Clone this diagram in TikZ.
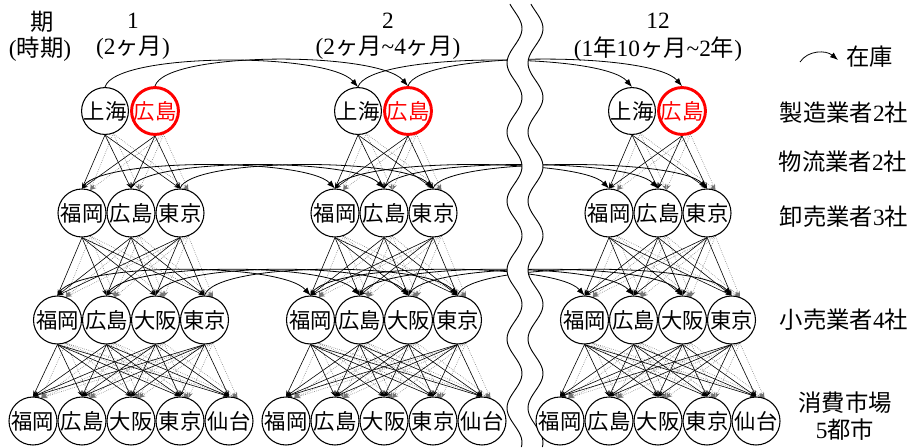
\documentclass[tikz,border=0pt]{standalone}
\usepackage{fontspec}
\setmainfont{Liberation Serif}
\newfontfamily\jp{Noto Sans CJK JP}
\usetikzlibrary{arrows.meta}
\pgfdeclarelayer{bg}
\pgfsetlayers{bg,main}
\begin{document}
\begin{tikzpicture}[x=0.75pt,y=-0.75pt,
  city/.style={circle,draw,line width=0.8pt,minimum size=36pt,inner sep=0pt,fill=white,font=\jp\fontsize{16}{16}\selectfont},
  mfg/.style={city,minimum size=34.5pt},
  redmfg/.style={mfg,draw=red,text=red,line width=2.2pt,minimum size=33pt},
  lab/.style={font=\fontsize{17.5}{19}\selectfont,inner sep=0pt,align=center},
  flowA/.style={-{Stealth[length=4.5pt,width=3.2pt]},line width=0.45pt,black},
  flowB/.style={-{Stealth[length=4.5pt,width=3.2pt]},line width=0.45pt,black!55,densely dotted},
  inv/.style={-{Latex[length=6pt,width=4.5pt]},line width=0.6pt},
  wave/.style={line width=0.7pt}]
\useasboundingbox (0,0) rectangle (912,447);

% headers
\node[lab] (h0) at (42,22) {\jp 期};
\node[lab] (h0b) at (40,49) {({\jp 時期})};
\node[lab] (h1) at (133,21) {1};
\node[lab] (h1b) at (133,48) {(2{\jp ヶ月})};
\node[lab] (h2) at (388,21) {2};
\node[lab] (h2b) at (388,48) {(2{\jp ヶ月}\textasciitilde 4{\jp ヶ月})};
\node[lab] (h3) at (658,21) {12};
\node[lab] (h3b) at (658,49) {(1{\jp 年}10{\jp ヶ月}\textasciitilde 2{\jp 年})};

% legend
\coordinate (lg1) at (800,62);
\coordinate (lg2) at (838,60);
\node[lab,anchor=west] (lgt) at (846,57) {\jp 在庫};

% row labels
\node[lab] (l1) at (844,113) {{\jp 製造業者}2{\jp 社}};
\node[lab] (l2) at (843,162) {{\jp 物流業者}2{\jp 社}};
\node[lab] (l3) at (844,217) {{\jp 卸売業者}3{\jp 社}};
\node[lab] (l4) at (844,320) {{\jp 小売業者}4{\jp 社}};
\node[lab] (l5) at (845,403) {\jp 消費市場};
\node[lab] (l6) at (845,430) {5{\jp 都市}};

% nodes
\foreach \c/\cx in {1/131,2/384,3/658}{
  \node[mfg] (m\c-1) at ({\cx-26},111) {上海};
  \node[redmfg] (m\c-2) at ({\cx+24},111) {広島};
  \foreach \n [count=\k] in {福岡,広島,東京}
    \node[city] (w\c-\k) at ({\cx-98+49*\k},213) {\n};
  \foreach \n [count=\k] in {福岡,広島,大阪,東京}
    \node[city] (r\c-\k) at ({\cx-122.5+49*\k},320) {\n};
  \foreach \n [count=\k] in {福岡,広島,大阪,東京,仙台}
    \node[city] (k\c-\k) at ({\cx-147+49*\k},421) {\n};
}

\begin{pgfonlayer}{bg}
\foreach \c in {1,2,3}{
  \foreach \i in {1,2}{\foreach \j in {1,2,3}{
    \draw[flowA] (m\c-\i.south) -- (w\c-\j.north);
    \draw[flowB] (m\c-\i.-70) -- (w\c-\j.70);
  }}
  \foreach \i in {1,2,3}{\foreach \j in {1,2,3,4}{
    \draw[flowA] (w\c-\i.south) -- (r\c-\j.north);
    \draw[flowB] (w\c-\i.-70) -- (r\c-\j.70);
  }}
  \foreach \i in {1,2,3,4}{\foreach \j in {1,2,3,4,5}{
    \draw[flowA] (r\c-\i.south) -- (k\c-\j.north);
    \draw[flowB] (r\c-\i.-70) -- (k\c-\j.70);
  }}
}
% inventory arcs
\foreach \c/\d in {1/2,2/3}{
  \foreach \i in {1,2}
    \draw[inv] (m\c-\i.north) .. controls +(10,-35) and +(-30,-35) .. (m\d-\i.north);
  \foreach \i in {1,2,3}
    \draw[inv] (w\c-\i.north) .. controls +(10,-31) and +(-30,-31) .. (w\d-\i.north);
  \foreach \i in {1,2,3,4}
    \draw[inv] (r\c-\i.north) .. controls +(10,-34) and +(-30,-34) .. (r\d-\i.north);
}
\draw[inv] (lg1) .. controls (808,50) and (826,50) .. (lg2);
% break
\fill[white] plot[domain=4:447,samples=160,smooth] ({514.5-7.5*cos(5.2174*(\x-63))},\x)
  -- plot[domain=447:4,samples=160,smooth] ({535.5-7.5*cos(5.2174*(\x-63))},\x) -- cycle;
\draw[wave] plot[domain=4:447,samples=160,smooth] ({514.5-7.5*cos(5.2174*(\x-63))},\x);
\draw[wave] plot[domain=4:447,samples=160,smooth] ({535.5-7.5*cos(5.2174*(\x-63))},\x);
\end{pgfonlayer}
\end{tikzpicture}
\end{document}
